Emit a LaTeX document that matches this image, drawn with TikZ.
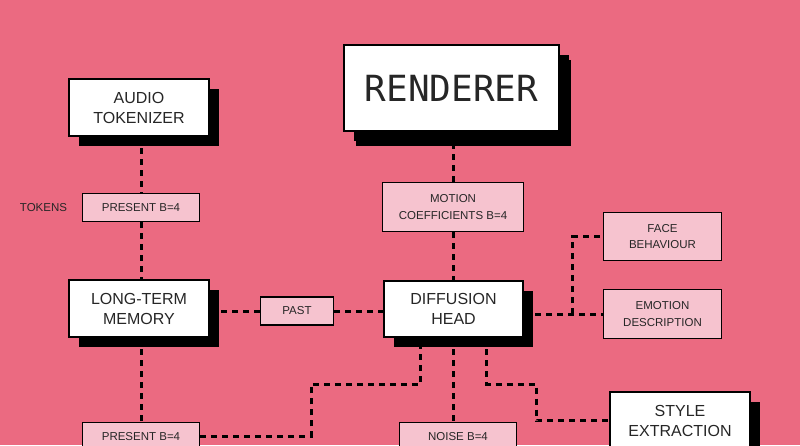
\documentclass[tikz,border=0pt]{standalone}
\usepackage{fontspec}
\setmainfont{Liberation Sans}
\newfontfamily\pixfont{DejaVu Sans Mono}
\usepackage{xcolor}
\usepackage{tikz}
\usetikzlibrary{shadows}
\definecolor{bgpink}{HTML}{EB6A81}
\definecolor{tagpink}{HTML}{F6C3CF}
\definecolor{inkgray}{HTML}{262626}
\tikzset{
  blockbox/.style={draw=black, fill=white, line width=2pt, text=inkgray,
    align=center, inner sep=0pt, minimum width=140pt, minimum height=57pt,
    font=\fontsize{16}{20}\selectfont,
    drop shadow={shadow xshift=10pt, shadow yshift=-10pt, fill=black, opacity=1}},
  tagbox/.style={draw=black, fill=tagpink, line width=1.5pt, text=inkgray,
    align=center, inner sep=0pt, minimum width=117pt, minimum height=28pt,
    font=\fontsize{11.5}{16.5}\selectfont},
  link/.style={line width=3pt, dash pattern=on 6pt off 5pt}
}

\begin{document}
\begin{tikzpicture}[x=1pt, y=-1pt]
      \clip (0,0) rectangle (800,445);
      \fill[bgpink] (0,0) rectangle (800,445);

      \coordinate (Aud) at (139, 107.5);
      \coordinate (Ltm) at (139, 308.5);
      \coordinate (Ren) at (451.5, 88);
      \coordinate (Dif) at (453.5, 309);
      \coordinate (Sty) at (680, 420.5);

      \coordinate (PresT) at (141, 207.5);
      \coordinate (PresB) at (141, 436.5);
      \coordinate (Tok) at (43.5, 207.5);
      \coordinate (Pst) at (297, 311);
      \coordinate (Mot) at (453, 207);
      \coordinate (Noi) at (458, 436.5);
      \coordinate (Fac) at (662.5, 236.5);
      \coordinate (Emo) at (662.5, 314);

      \coordinate (Jl) at (311, 384);
      \coordinate (Jr) at (536, 384);

      \node[blockbox] (audio) at (Aud) {AUDIO\\TOKENIZER};
      \node[blockbox] (memory) at (Ltm) {LONG-TERM\\MEMORY};
      \node[blockbox, minimum width=215pt, minimum height=86pt,
        font=\pixfont\fontsize{36}{40}\selectfont,
        drop shadow={shadow xshift=12pt, shadow yshift=-15pt, fill=black, opacity=1}]
        (renderer) at (Ren) {RENDERER};
      \node[blockbox, minimum width=139pt, minimum height=56pt] (diffusion) at (Dif) {DIFFUSION\\HEAD};
      \node[blockbox] (style) at (Sty) {STYLE\\EXTRACTION};

      \node[tagbox] (presentT) at (PresT) {PRESENT B=4};
      \node[tagbox] (presentB) at (PresB) {PRESENT B=4};
      \node[text=inkgray, inner sep=0pt, font=\fontsize{11.5}{16.5}\selectfont] (tokens) at (Tok) {TOKENS};
      \node[tagbox, minimum width=73pt] (past) at (Pst) {PAST};
      \node[tagbox, minimum width=141pt, minimum height=49pt] (motion) at (Mot) {MOTION\\COEFFICIENTS B=4};
      \node[tagbox] (noise) at (Noi) {NOISE B=4};
      \node[tagbox, minimum width=118pt, minimum height=48pt] (face) at (Fac) {FACE\\BEHAVIOUR};
      \node[tagbox, minimum width=118pt, minimum height=49pt] (emotion) at (Emo) {EMOTION\\DESCRIPTION};

      \coordinate (Jf) at ([xshift=-30pt]emotion.west);

      \draw[link] (audio.south -| presentT.north) -- (presentT.north);
      \draw[link] (presentT.south) -- (presentT.south |- memory.north);
      \draw[link] (memory.south -| presentB.north) -- (presentB.north);

      \draw[link] (memory.east |- past.west) -- (past.west);
      \draw[link] (past.east) -- (past.east -| diffusion.west);

      \draw[link] (renderer.south -| motion.north) -- (motion.north);
      \draw[link] (motion.south) -- (motion.south |- diffusion.north);

      \draw[link] (diffusion.east |- emotion.west) -- (emotion.west);
      \draw[link] (Jf) |- (face.west);

      \draw[link] (presentB.east) -| (Jl) -| ([xshift=-33pt]diffusion.south);
      \draw[link] (diffusion.south) -- (diffusion.south |- noise.north);
      \draw[link] ([xshift=33pt]diffusion.south) |- (Jr) |- (style.west);
\end{tikzpicture}
\end{document}
